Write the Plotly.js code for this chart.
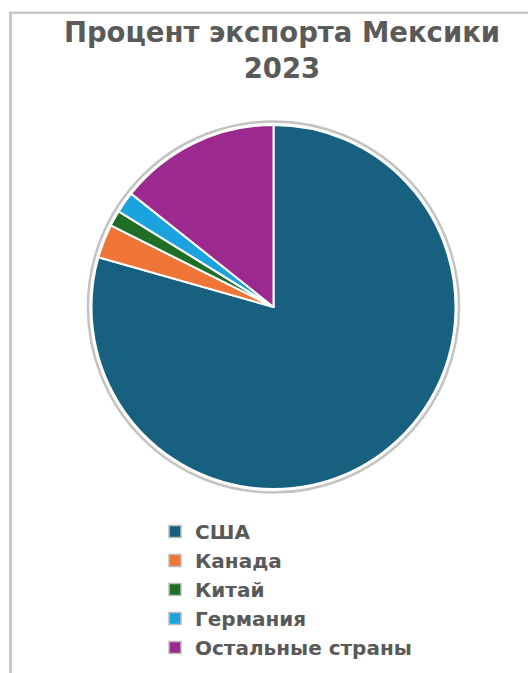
<!DOCTYPE html>
<html>
<head>
<meta charset="utf-8">
<script src="https://cdn.plot.ly/plotly-3.0.1.min.js"></script>
<style>
html,body{margin:0;padding:0;background:#fff;}
#chart{width:528px;height:673px;}
</style>
</head>
<body>
<div id="chart"></div>
<script>
const categories = ["США", "Канада", "Китай", "Германия", "Остальные страны"];
const shares = [79.4, 3.0, 1.4, 1.9, 14.3];
const colors = ["#17607f", "#ee7535", "#1f6e26", "#1aa3dc", "#9c2a8e"];
const titleText = "Процент экспорта Мексики<br>2023";

const W = 528, H = 673;
const cx = 273.5, cy = 307, r = 182, rr = 185.5;
function dom(rad){
  return {x:[(cx-rad)/W,(cx+rad)/W], y:[1-(cy+rad)/H,1-(cy-rad)/H]};
}

const ring = {
  type:'pie', labels:['ring'], values:[1], sort:false,
  marker:{colors:['#ffffff'], line:{color:'#c3c3c3', width:2.5}},
  textinfo:'none', hoverinfo:'skip', showlegend:false, domain:dom(rr)
};
const legendPie = {
  type:'pie', labels:categories, values:shares, sort:false, direction:'clockwise', rotation:0,
  marker:{colors:colors, line:{color:'#bdbdbd', width:1.5}},
  textinfo:'none', hoverinfo:'label+percent', showlegend:true, domain:dom(r)
};
const mainPie = {
  type:'pie', labels:categories, values:shares, sort:false, direction:'clockwise', rotation:0,
  marker:{colors:colors, line:{color:'#ffffff', width:2}},
  textinfo:'none', hoverinfo:'label+percent', showlegend:false, domain:dom(r)
};

const layout = {
  width:W, height:H,
  margin:{l:0,r:0,t:0,b:0},
  paper_bgcolor:'#ffffff',
  title:{text:'<b>'+titleText+'</b>', x:282/W, xanchor:'center', xref:'paper',
         y:1-42/H, yanchor:'top', yref:'container',
         font:{family:'DejaVu Sans', size:27.5, color:'#5a5a5a'}},
  legend:{x:155/W, xanchor:'left', y:1-512/H, yanchor:'top',
          font:{family:'DejaVu Sans', size:20, color:'#595959', weight:'bold'},
          bgcolor:'rgba(0,0,0,0)', traceorder:'normal'},
  shapes:[
    {type:'line', xref:'paper', yref:'paper', x0:9/W, x1:1, y0:1-12.8/H, y1:1-12.8/H,
     line:{color:'#c8c8c8', width:2.5}},
    {type:'line', xref:'paper', yref:'paper', x0:10.5/W, x1:10.5/W, y0:0, y1:1-12/H,
     line:{color:'#c8c8c8', width:3}}
  ]
};

Plotly.newPlot('chart', [ring, legendPie, mainPie], layout, {displayModeBar:false, staticPlot:true});
</script>
</body>
</html>
